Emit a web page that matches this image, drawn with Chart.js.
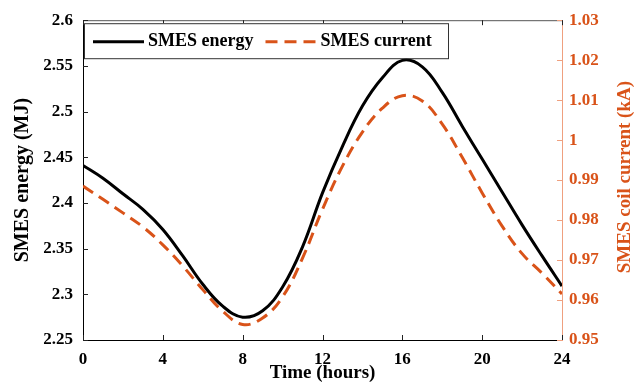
<!DOCTYPE html>
<html lang="en">
<head>
    <meta charset="UTF-8">
    <title>SMES energy and current</title>
    <script src="https://cdn.jsdelivr.net/npm/chart.js"></script>
    <style>
        html, body { margin: 0; padding: 0; background: #fff; }
        #wrap { width: 636px; height: 384px; }
    </style>
</head>
<body>
    <div id="wrap"><canvas id="smesChart" width="636" height="384"></canvas></div>

    <script>
        // time axis (hours)
        const hours = [0, 1, 2, 3, 4, 5, 6, 7, 8, 9, 10, 11, 12, 13, 14, 15, 16, 17, 18, 19, 20, 21, 22, 23, 24];
        // SMES energy (MJ)
        const energy = [2.441, 2.427, 2.410, 2.393, 2.371, 2.342, 2.311, 2.287, 2.275, 2.282, 2.308, 2.352, 2.411,
                        2.462, 2.506, 2.537, 2.556, 2.549, 2.521, 2.484, 2.448, 2.412, 2.376, 2.342, 2.309];
        // SMES coil current (kA)
        const current = [0.9885, 0.9852, 0.9818, 0.9783, 0.9738, 0.9685, 0.9626, 0.9572, 0.9539, 0.9555, 0.9608, 0.9705, 0.9827,
                         0.9935, 1.0020, 1.0080, 1.0111, 1.0098, 1.0040, 0.9957, 0.9868, 0.9785, 0.9716, 0.9667, 0.9615];

        const serif = '"Liberation Serif", "Times New Roman", serif';
        const orange = '#D95319';
        const salmon = '#EFA07F';
        const fmt = v => parseFloat(v.toFixed(3)).toString();

        // inward tick marks + top border, matlab style
        const frameTicks = {
            id: 'frameTicks',
            afterDatasetsDraw(chart) {
                const { ctx, chartArea: a, scales } = chart;
                const len = 5;
                ctx.save();
                ctx.lineWidth = 1;
                ctx.strokeStyle = '#555';
                ctx.beginPath();
                ctx.moveTo(a.left, a.top + 0.5);
                ctx.lineTo(a.right, a.top + 0.5);
                ctx.stroke();

                ctx.strokeStyle = '#222';
                ctx.beginPath();
                scales.x.ticks.forEach(t => {
                    const px = Math.round(scales.x.getPixelForValue(t.value)) + 0.5;
                    ctx.moveTo(px, a.bottom); ctx.lineTo(px, a.bottom - len);
                    ctx.moveTo(px, a.top); ctx.lineTo(px, a.top + len);
                });
                scales.y.ticks.forEach(t => {
                    const py = Math.round(scales.y.getPixelForValue(t.value)) + 0.5;
                    ctx.moveTo(a.left, py); ctx.lineTo(a.left + len, py);
                });
                ctx.stroke();

                ctx.strokeStyle = salmon;
                ctx.beginPath();
                scales.y1.ticks.forEach(t => {
                    const py = Math.round(scales.y1.getPixelForValue(t.value)) + 0.5;
                    ctx.moveTo(a.right, py); ctx.lineTo(a.right - len, py);
                });
                ctx.stroke();

                // right axis title reads bottom-to-top like the left one
                ctx.save();
                ctx.translate(625, (a.top + a.bottom) / 2 - 3);
                ctx.rotate(-Math.PI / 2);
                ctx.font = 'bold 19px ' + serif;
                ctx.fillStyle = orange;
                ctx.textAlign = 'center';
                ctx.textBaseline = 'middle';
                ctx.fillText('SMES coil current (kA)', 0, 0);
                ctx.restore();
                ctx.restore();
            }
        };

        // boxed legend inside the plot area
        const boxLegend = {
            id: 'boxLegend',
            afterDraw(chart) {
                const { ctx, chartArea: a } = chart;
                const x0 = a.left + 1, y0 = a.top + 3, w = 364, h = 35;
                ctx.save();
                ctx.fillStyle = '#fff';
                ctx.fillRect(x0, y0, w, h);
                ctx.strokeStyle = '#333';
                ctx.lineWidth = 1;
                ctx.strokeRect(x0 + 0.5, y0 + 0.5, w, h);
                ctx.font = 'bold 18px ' + serif;
                ctx.textBaseline = 'middle';
                const cy = y0 + h / 2 + 1;
                let cx = x0 + 9;
                chart.data.datasets.forEach(ds => {
                    ctx.strokeStyle = ds.borderColor;
                    ctx.lineWidth = ds.borderWidth;
                    ctx.setLineDash(ds.borderDash || []);
                    ctx.beginPath();
                    ctx.moveTo(cx, cy);
                    ctx.lineTo(cx + 51, cy);
                    ctx.stroke();
                    ctx.setLineDash([]);
                    ctx.fillStyle = '#000';
                    ctx.fillText(ds.label, cx + 55, cy);
                    cx += 55 + ctx.measureText(ds.label).width + 12;
                });
                ctx.restore();
            }
        };

        const ctx = document.getElementById('smesChart').getContext('2d');
        new Chart(ctx, {
            type: 'line',
            data: {
                datasets: [
                    {
                        label: 'SMES energy',
                        data: hours.map((h, i) => ({ x: h, y: energy[i] })),
                        yAxisID: 'y',
                        borderColor: '#000',
                        borderWidth: 3,
                        pointRadius: 0,
                        tension: 0.4
                    },
                    {
                        label: 'SMES current',
                        data: hours.map((h, i) => ({ x: h, y: current[i] })),
                        yAxisID: 'y1',
                        borderColor: orange,
                        borderWidth: 3,
                        borderDash: [12, 7],
                        pointRadius: 0,
                        tension: 0.4
                    }
                ]
            },
            options: {
                responsive: false,
                animation: false,
                layout: { padding: { top: 14 } },
                plugins: {
                    legend: { display: false },
                    tooltip: { enabled: false }
                },
                scales: {
                    x: {
                        type: 'linear',
                        min: 0,
                        max: 24,
                        afterFit: s => { s.height = 44; },
                        ticks: { stepSize: 4, color: '#000', padding: 9, callback: fmt,
                                 font: { family: serif, size: 17, weight: 'bold' } },
                        grid: { display: false, drawTicks: false },
                        border: { display: true, color: '#000', width: 1 },
                        title: {
                            display: true, text: 'Time (hours)', color: '#000',
                            font: { family: serif, size: 19, weight: 'bold', lineHeight: 1 },
                            padding: { top: 0, bottom: 1 }
                        }
                    },
                    y: {
                        position: 'left',
                        min: 2.25,
                        max: 2.6,
                        afterFit: s => { s.width = 83; },
                        ticks: { stepSize: 0.05, color: '#000', padding: 10, callback: fmt,
                                 font: { family: serif, size: 17, weight: 'bold' } },
                        grid: { display: false, drawTicks: false },
                        border: { display: true, color: '#000', width: 1 },
                        title: {
                            display: true, text: 'SMES energy (MJ)', color: '#000',
                            font: { family: serif, size: 20, weight: 'bold', lineHeight: 1 },
                            padding: { top: 13, bottom: 0 }
                        }
                    },
                    y1: {
                        position: 'right',
                        min: 0.95,
                        max: 1.03,
                        afterFit: s => { s.width = 74; },
                        ticks: { stepSize: 0.01, color: orange, padding: 7, callback: fmt,
                                 font: { family: serif, size: 17, weight: 'bold' } },
                        grid: { display: false, drawTicks: false },
                        border: { display: true, color: salmon, width: 1 },
                        title: { display: false }
                    }
                }
            },
            plugins: [frameTicks, boxLegend]
        });
    </script>
</body>
</html>
